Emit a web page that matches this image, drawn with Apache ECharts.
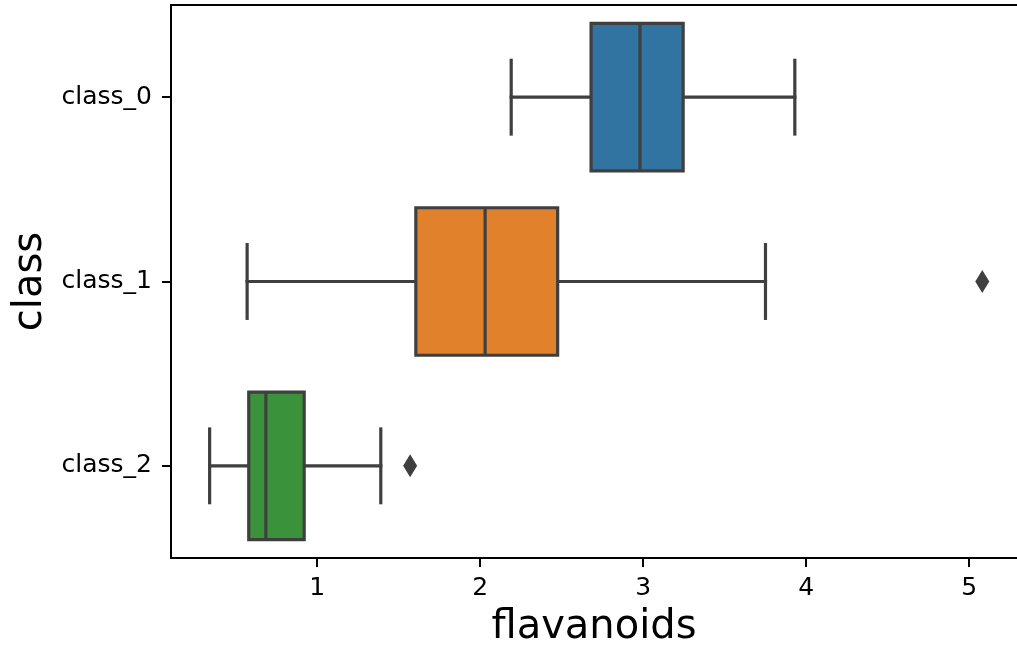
<!DOCTYPE html>
<html>
<head>
<meta charset="utf-8">
<script src="https://cdn.jsdelivr.net/npm/echarts@6/dist/echarts.min.js"></script>
<style>
html,body{margin:0;padding:0;background:#fff;}
#chart{width:1017px;height:646px;}
</style>
</head>
<body>
<div id="chart"></div>
<script>
// ---- data ----
const categories = ['class_0', 'class_1', 'class_2'];
const whiskerLow = [2.19, 0.57, 0.34];
const q1 = [2.68, 1.605, 0.58];
const median = [2.98, 2.03, 0.685];
const q3 = [3.245, 2.475, 0.92];
const whiskerHigh = [3.93, 3.75, 1.39];
const outlierCats = ['class_1', 'class_2'];
const outlierValues = [5.08, 1.57];
const xTicks = [1, 2, 3, 4, 5];
const boxColors = ['#3274a1', '#e1812c', '#3a923a'];
const xMin = 0.103, xMax = 5.293;

const LINE = '#3f3f3f';
const LW = 3.2;
const FONT = 'DejaVu Sans';

const boxData = categories.map((c, i) => [i, whiskerLow[i], q1[i], median[i], q3[i], whiskerHigh[i]]);
const outlierData = outlierCats.map((c, i) => [outlierValues[i], categories.indexOf(c)]);

function renderBox(params, api) {
  const ci = api.value(0);
  const lo = api.coord([api.value(1), ci]);
  const b1 = api.coord([api.value(2), ci]);
  const md = api.coord([api.value(3), ci]);
  const b3 = api.coord([api.value(4), ci]);
  const hi = api.coord([api.value(5), ci]);
  const band = api.size([0, 1])[1];
  const hb = band * 0.4;
  const hc = band * 0.2;
  const y = lo[1];
  const ls = {stroke: LINE, lineWidth: LW, lineCap: 'square'};
  return {
    type: 'group',
    children: [
      {type: 'line', shape: {x1: lo[0], y1: y, x2: b1[0], y2: y}, style: ls},
      {type: 'line', shape: {x1: b3[0], y1: y, x2: hi[0], y2: y}, style: ls},
      {type: 'line', shape: {x1: lo[0], y1: y - hc, x2: lo[0], y2: y + hc}, style: ls},
      {type: 'line', shape: {x1: hi[0], y1: y - hc, x2: hi[0], y2: y + hc}, style: ls},
      {type: 'rect', shape: {x: b1[0], y: y - hb, width: b3[0] - b1[0], height: 2 * hb},
        style: {fill: boxColors[params.dataIndex], stroke: LINE, lineWidth: LW}},
      {type: 'line', shape: {x1: md[0], y1: y - hb, x2: md[0], y2: y + hb},
        style: {stroke: LINE, lineWidth: LW, lineCap: 'butt'}}
    ]
  };
}

const chart = echarts.init(document.getElementById('chart'), null, {renderer: 'canvas'});
chart.setOption({
  animation: false,
  backgroundColor: '#fff',
  grid: {left: 171, right: 0, top: 5, bottom: 88, containLabel: false, outerBoundsMode: 'none'},
  xAxis: [{
    type: 'value', min: xMin, max: xMax, position: 'bottom',
    name: 'flavanoids', nameLocation: 'middle', nameGap: 50,
    nameTextStyle: {fontFamily: FONT, fontSize: 40, color: '#000'},
    axisLine: {show: true, onZero: false, lineStyle: {color: '#000', width: 2}},
    axisTick: {show: true, length: 9, lineStyle: {color: '#000', width: 2}, customValues: xTicks},
    axisLabel: {fontFamily: FONT, fontSize: 25, color: '#000', margin: 18, customValues: xTicks},
    splitLine: {show: false}
  }, {
    type: 'value', min: xMin, max: xMax, position: 'top',
    axisLine: {show: true, onZero: false, lineStyle: {color: '#000', width: 2}},
    axisTick: {show: false}, axisLabel: {show: false}, splitLine: {show: false}
  }],
  yAxis: {
    type: 'category', data: categories, inverse: true,
    name: 'class', nameLocation: 'middle', nameGap: 106, nameRotate: 90,
    nameTextStyle: {fontFamily: FONT, fontSize: 40, color: '#000'},
    axisLine: {show: true, lineStyle: {color: '#000', width: 2}},
    axisTick: {show: true, alignWithLabel: true, length: 9, lineStyle: {color: '#000', width: 2}},
    axisLabel: {fontFamily: FONT, fontSize: 25, color: '#000', margin: 19},
    splitLine: {show: false}
  },
  series: [
    {type: 'custom', renderItem: renderBox, data: boxData, encode: {x: [1, 2, 3, 4, 5], y: 0}, z: 2},
    {type: 'scatter', data: outlierData, symbol: 'diamond', symbolSize: [14, 23],
      itemStyle: {color: LINE, opacity: 1}, z: 3}
  ]
});
</script>
</body>
</html>
